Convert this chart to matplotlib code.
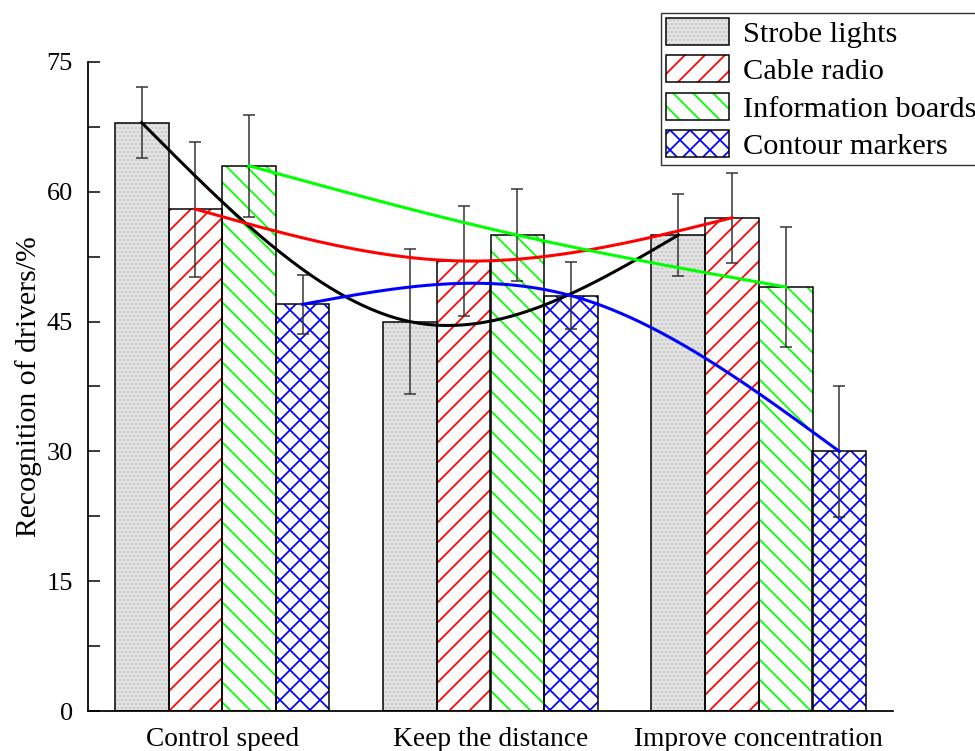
import matplotlib.pyplot as plt
import numpy as np
from matplotlib.patches import Patch
from matplotlib.legend_handler import HandlerTuple

# Categories and measured recognition rates (%)
groups = ['Control speed', 'Keep the distance', 'Improve concentration']
series = ['Strobe lights', 'Cable radio', 'Information boards', 'Contour markers']

strobe_lights = [68, 45, 55]
cable_radio = [58, 52, 57]
information_boards = [63, 55, 49]
contour_markers = [47, 48, 30]

strobe_err = [4.1, 8.4, 4.7]
cable_err = [7.8, 6.4, 5.2]
info_err = [5.9, 5.3, 6.9]
contour_err = [3.4, 3.9, 7.6]

values = [strobe_lights, cable_radio, information_boards, contour_markers]
errors = [strobe_err, cable_err, info_err, contour_err]

colors = ['#c4c4c4', 'red', '#00ff00', 'blue']
line_colors = ['black', 'red', '#00ff00', 'blue']
hatches = ['.....', '//', '\\\\', 'xx']
faces = ['#e6e6e6', 'white', 'white', 'white']


def natural_spline(x, y, n=200):
    # Natural cubic spline through the given points
    x = np.asarray(x, float)
    y = np.asarray(y, float)
    k = len(x)
    h = np.diff(x)
    A = np.zeros((k, k))
    r = np.zeros(k)
    A[0, 0] = A[-1, -1] = 1
    for i in range(1, k - 1):
        A[i, i - 1] = h[i - 1]
        A[i, i] = 2 * (h[i - 1] + h[i])
        A[i, i + 1] = h[i]
        r[i] = 6 * ((y[i + 1] - y[i]) / h[i] - (y[i] - y[i - 1]) / h[i - 1])
    M = np.linalg.solve(A, r)
    xs = np.linspace(x[0], x[-1], n)
    idx = np.clip(np.searchsorted(x, xs) - 1, 0, k - 2)
    x0, x1 = x[idx], x[idx + 1]
    hh = x1 - x0
    a = (x1 - xs) / hh
    b = (xs - x0) / hh
    ys = (a * y[idx] + b * y[idx + 1]
          + ((a ** 3 - a) * M[idx] + (b ** 3 - b) * M[idx + 1]) * hh ** 2 / 6)
    return xs, ys


# hatch spacing follows the dpi, so sizes below are given at 84 dpi and scaled
dpi = 120
s = 84 / dpi

plt.rcParams['font.family'] = ['Liberation Serif', 'DejaVu Serif']
plt.rcParams['hatch.linewidth'] = 1.5 * s

fig = plt.figure(figsize=(975 / dpi, 751 / dpi), dpi=dpi)
ax = fig.add_axes([88 / 975, 40 / 751, (893 - 88) / 975, (711 - 62) / 751])

x = np.arange(len(groups))
width = 0.2
offsets = (np.arange(len(series)) - 1.5) * width

handles = []
for i in range(len(series)):
    xpos = x + offsets[i]
    # hatch drawn in the series colour, outline in black on top
    ax.bar(xpos, values[i], width, color=faces[i], edgecolor=colors[i],
           hatch=hatches[i], linewidth=0, zorder=2)
    ax.bar(xpos, values[i], width, fill=False, edgecolor='black',
           linewidth=1.3 * s, zorder=3)
    ax.errorbar(xpos, values[i], yerr=errors[i], fmt='none', ecolor='#333333',
                elinewidth=1.3 * s, capsize=5.5 * s, capthick=1.3 * s, zorder=4)
    xs, ys = natural_spline(xpos, values[i])
    ax.plot(xs, ys, color=line_colors[i], linewidth=2.6 * s, zorder=5)
    handles.append((Patch(facecolor=faces[i], edgecolor=colors[i],
                          hatch=hatches[i], linewidth=0),
                    Patch(fill=False, edgecolor='black', linewidth=1.3 * s)))

ax.set_xlim(-0.5, 2.5)
ax.set_ylim(0, 75)
ax.set_yticks(np.arange(0, 76, 15))
ax.set_yticks(np.arange(7.5, 75, 15), minor=True)
ax.set_xticks(x)
ax.set_xticklabels(groups, fontsize=23.5 * s)
ax.tick_params(axis='x', length=0, pad=14 * s)
ax.tick_params(axis='y', which='both', direction='in', length=10 * s, width=1.3 * s)
ax.tick_params(axis='y', which='major', labelsize=22.5 * s, pad=13 * s)
ax.spines['top'].set_visible(False)
ax.spines['right'].set_visible(False)
ax.spines['left'].set_linewidth(1.5 * s)
ax.spines['bottom'].set_linewidth(1.5 * s)
ax.set_ylabel('Recognition of drivers/%', fontsize=25.5 * s, labelpad=4 * s)

# legend sits above the plot area and runs off the right edge
leg = fig.legend(handles, series, handler_map={tuple: HandlerTuple(ndivide=1)},
                 loc='upper left', bbox_to_anchor=(661 / 975, 1 - 13 / 751),
                 fontsize=26 * s, frameon=True, fancybox=False, edgecolor='black',
                 handlelength=2.1, handleheight=1.0, labelspacing=0.25,
                 handletextpad=0.45, borderpad=0.15, borderaxespad=0)
leg.get_frame().set_linewidth(1.2 * s)

fig.savefig('out.png', dpi=dpi)
